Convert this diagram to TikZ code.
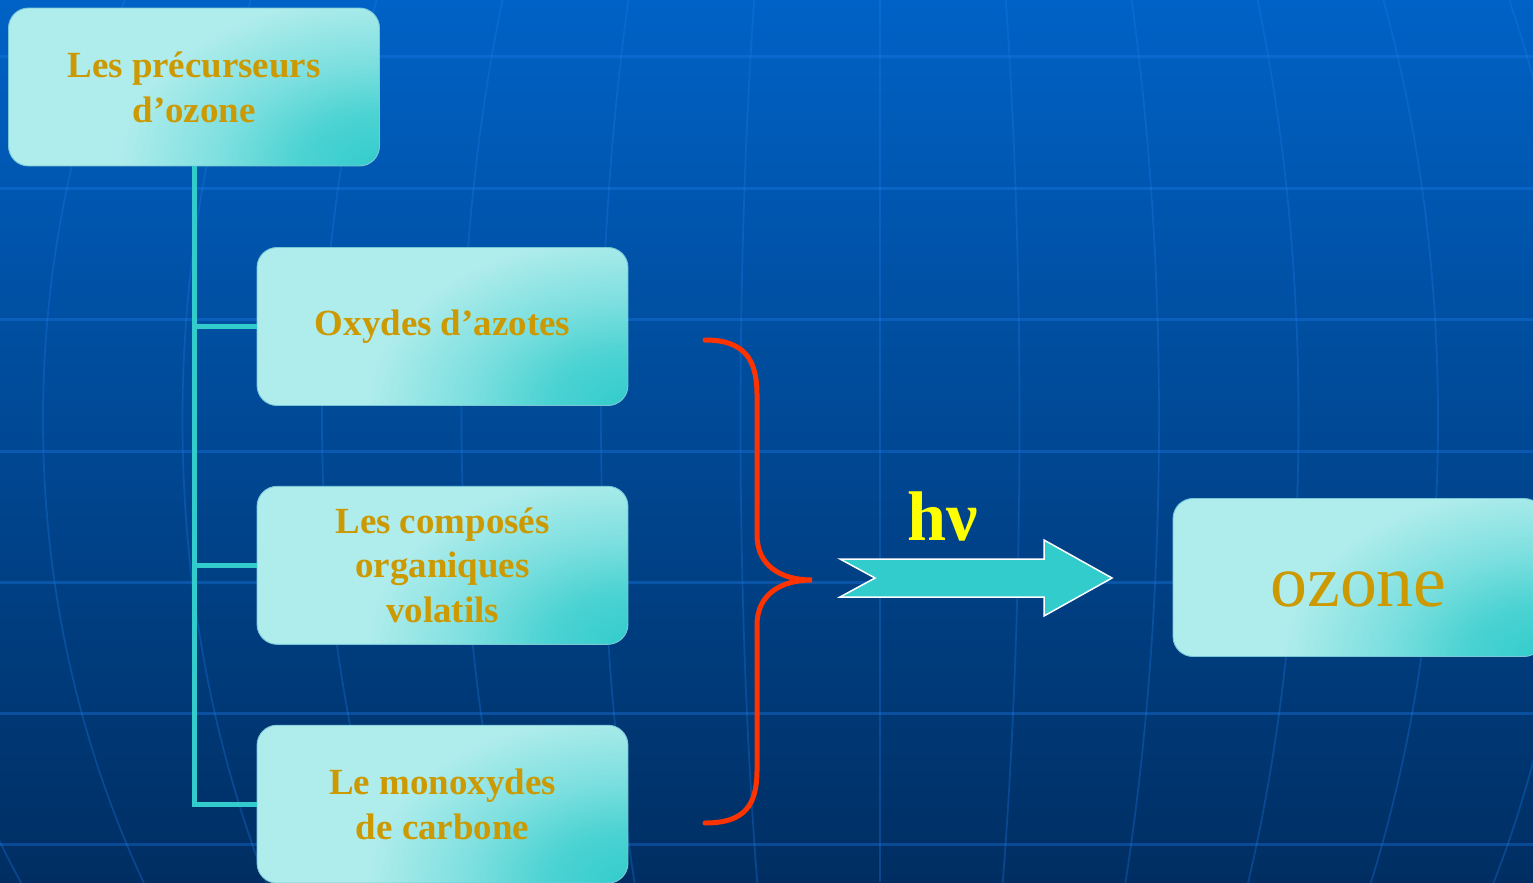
\documentclass[tikz,border=0pt]{standalone}
\usepackage{fontspec}
\setmainfont{Liberation Serif}
\usepackage{xcolor}
\usepackage{tikz}
\usetikzlibrary{positioning, calc}
\definecolor{bgtop}{RGB}{0,98,198}
\definecolor{bgbottom}{RGB}{0,46,98}
\definecolor{gridblue}{RGB}{30,125,235}
\definecolor{boxlight}{RGB}{175,236,236}
\definecolor{boxteal}{RGB}{51,204,204}
\definecolor{boxedge}{RGB}{120,200,215}
\definecolor{gold}{RGB}{204,153,0}
\definecolor{bracered}{RGB}{255,51,0}
\definecolor{hvyellow}{RGB}{255,255,0}
\pgfdeclareradialshading{cornerglow}{\pgfpoint{0bp}{0bp}}{%
  color(0bp)=(boxteal); color(4bp)=(boxteal!80!boxlight);
  color(8bp)=(boxteal!40!boxlight); color(13bp)=(boxlight); color(50bp)=(boxlight)}

\begin{document}
\begin{tikzpicture}[
    x=0.02cm, y=-0.02cm,
    boxbase/.style={rectangle, draw=boxedge, line width=0.5pt, rounded corners=0.4cm, fill=boxlight,
        minimum width=7.42cm, minimum height=3.16cm, inner sep=0pt, text=gold,
        path picture={\shade[shading=cornerglow]
            (path picture bounding box.south east) ellipse (10cm and 6.5cm);}},
    box/.style={boxbase, align=center, font=\fontsize{21}{25.6}\selectfont\bfseries},
    link/.style={boxteal, line width=0.1cm},
    gridline/.style={gridblue, draw opacity=0.35, line width=0.06cm},
    meridian/.style={gridblue, draw opacity=0.3, line width=0.035cm},
    brace/.style={bracered, line width=0.1cm, line cap=round},
    blockarrow/.style={fill=boxteal, draw=white, line width=0.03cm}
]
\useasboundingbox (0,0) rectangle (1533,882);

% Background
\shade[top color=bgtop, bottom color=bgbottom] (0,0) rectangle (1533,882);
\begin{scope}
  \clip (0,0) rectangle (1533,882);
  \foreach \y in {57,188,319,451,582,713,844}
    \draw[gridline] (0,\y) -- (1533,\y);
  \draw[meridian] (880,0) -- (880,882);
  \foreach \k in {1,...,7}
    \draw[meridian] (880,420) ellipse ({139.5*\k} and 972);
\end{scope}

% Precursors
\node[box] (prec) at (194,87) {Les précurseurs\\d’ozone};
\node[box] (nox) at (442.5,326.5) {Oxydes d’azotes};
\node[box, below=1.6cm of nox] (cov) {Les composés\\organiques\\volatils};
\node[box, below=1.6cm of cov] (co) {Le monoxydes\\de carbone};

% Product
\node[boxbase, font=\fontsize{42}{50}\selectfont, text height=1.14cm, text depth=0pt] (ozone) at (1358.5,577.5) {ozone};

% Tree links
\draw[link] (prec.south) |- (nox.west);
\draw[link] (prec.south) |- (cov.west);
\draw[link] (prec.south) |- (co.west);

% Brace and reaction arrow
\coordinate (tip) at (812,580);
\draw[brace] (705,340) .. controls (745,340) and (757,360) .. (757,395)
    -- (757,535) .. controls (757,565) and (780,580) .. (tip)
    .. controls (780,580) and (757,595) .. (757,625)
    -- (757,770) .. controls (757,805) and (745,823) .. (705,823);
\draw[blockarrow] (840,559) -- (1044,559) -- (1044,540) -- (1112,578) -- (1044,616)
    -- (1044,597) -- (840,597) -- (875,578) -- cycle;
\node[font=\fontsize{40}{48}\selectfont\bfseries, text=hvyellow, anchor=base] (hv) at (943,540) {hν};

\end{tikzpicture}
\end{document}
